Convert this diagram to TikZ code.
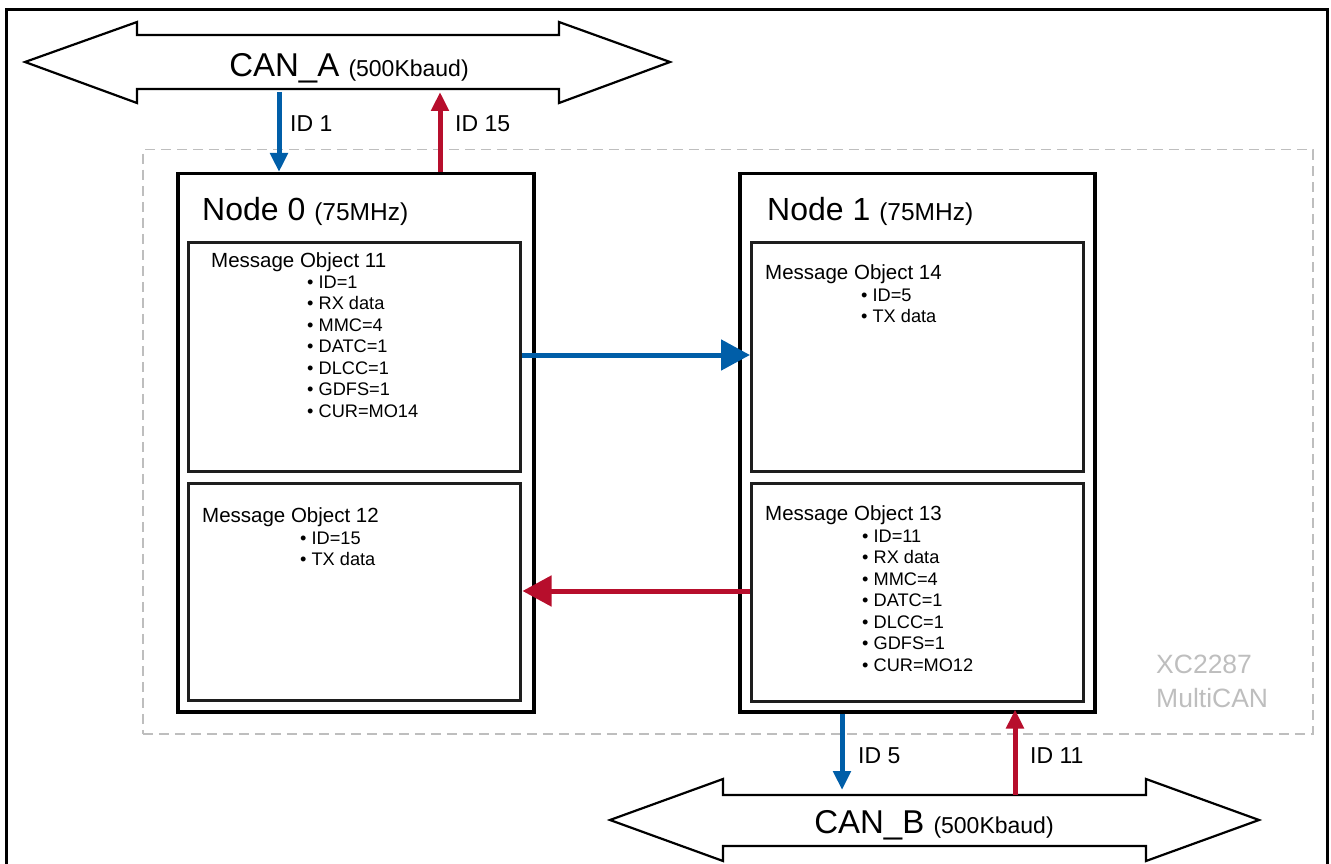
\documentclass[tikz,border=0pt]{standalone}
\usepackage{fontspec}
\setmainfont{Liberation Sans}
\usetikzlibrary{arrows.meta}
\definecolor{canblue}{RGB}{0,94,168}
\definecolor{canred}{RGB}{183,14,44}
\definecolor{dashgrey}{RGB}{190,190,190}
\definecolor{textgrey}{RGB}{190,190,190}
\definecolor{boxgrey}{RGB}{30,30,30}
\begin{document}
\begin{tikzpicture}[x=1pt,y=-1pt,
  nodebox/.style={draw=black, line width=3.5pt, inner sep=0pt, anchor=north west, minimum width=356pt, minimum height=538pt},
  mobox/.style={draw=boxgrey, line width=2.5pt, inner sep=0pt, anchor=north west, minimum width=332pt},
  bus/.style={draw=black, line width=2.2pt, line join=miter, fill=white},
  lbl/.style={inner sep=0pt, anchor=base west},
  title/.style={lbl, font=\fontsize{32}{36}\selectfont},
  motitle/.style={lbl, font=\fontsize{20.5}{24}\selectfont},
  bul/.style={lbl, font=\fontsize{18.2}{21.5}\selectfont},
  idlbl/.style={lbl, font=\fontsize{23}{27}\selectfont},
  vblue/.style={draw=canblue, line width=5pt, -{Triangle[length=19pt,width=17pt]}},
  vred/.style={draw=canred, line width=5pt, -{Triangle[length=19pt,width=17pt]}},
  hblue/.style={draw=canblue, line width=5pt, -{Triangle[length=29pt,width=30pt]}},
  hred/.style={draw=canred, line width=5pt, -{Triangle[length=29pt,width=30pt]}}
]
\useasboundingbox (0,0) rectangle (1331,864);
% outer frame
\draw[line width=3pt] (6,870) -- (6,10) -- (1327,10) -- (1327,870);
% chip dashed box
\node[draw=dashgrey, line width=1.5pt, dash pattern=on 10pt off 6pt, anchor=north west, inner sep=0pt, minimum width=1170pt, minimum height=584pt] (chip) at (142,149) {};
\node[lbl, text=textgrey, font=\fontsize{26.5}{30}\selectfont] (chipa) at (1156,673) {XC2287};
\node[lbl, text=textgrey, font=\fontsize{26.5}{30}\selectfont] (chipb) at (1156,707) {MultiCAN};
% buses
\draw[bus] (25,62) -- (137,22) -- (137,35) -- (559,35) -- (559,22) -- (670,62) -- (559,103) -- (559,89) -- (137,89) -- (137,103) -- cycle;
\node[inner sep=0pt, anchor=base] (cana) at (349,77) {\fontsize{33}{37}\selectfont CAN\_A \fontsize{23}{27}\selectfont(500Kbaud)};
\draw[bus] (610,820) -- (723,779) -- (723,795) -- (1146,795) -- (1146,779) -- (1259,820) -- (1146,861) -- (1146,846) -- (723,846) -- (723,861) -- cycle;
\node[inner sep=0pt, anchor=base] (canb) at (934,833) {\fontsize{33}{37}\selectfont CAN\_B \fontsize{23}{27}\selectfont(500Kbaud)};
% CAN nodes
\node[nodebox] (n0) at (176,172) {};
\node[nodebox, minimum width=355pt] (n1) at (738,172) {};
\node[title] (n0t) at (202,220) {Node 0 \fontsize{24.5}{28}\selectfont(75MHz)};
\node[title] (n1t) at (767,220) {Node 1 \fontsize{24.5}{28}\selectfont(75MHz)};
% message objects
\node[mobox, minimum height=229pt] (mo11) at (187,241) {};
\node[mobox, minimum height=217pt] (mo12) at (187,482) {};
\node[mobox, minimum height=229pt] (mo14) at (750,241) {};
\node[mobox, minimum height=218pt] (mo13) at (750,482) {};
\node[motitle] (mo11t) at (211,267) {Message Object 11};
\node[motitle] (mo12t) at (202,522) {Message Object 12};
\node[motitle] (mo14t) at (765,279) {Message Object 14};
\node[motitle] (mo13t) at (765,520) {Message Object 13};
\foreach \t [count=\i] in {ID=1,RX data,MMC=4,DATC=1,DLCC=1,GDFS=1,CUR=MO14}
  \node[bul] (mo11l\i) at (307,{288+21.5*(\i-1)}) {\textbullet\ \t};
\foreach \t [count=\i] in {ID=15,TX data}
  \node[bul] (mo12l\i) at (300,{544+21.5*(\i-1)}) {\textbullet\ \t};
\foreach \t [count=\i] in {ID=5,TX data}
  \node[bul] (mo14l\i) at (861,{301+21.5*(\i-1)}) {\textbullet\ \t};
\foreach \t [count=\i] in {ID=11,RX data,MMC=4,DATC=1,DLCC=1,GDFS=1,CUR=MO12}
  \node[bul] (mo13l\i) at (862,{542+21.5*(\i-1)}) {\textbullet\ \t};
% bus connection points
\coordinate (a1) at (279,92);
\coordinate (a15) at (440,92);
\coordinate (b5) at (842,790);
\coordinate (b11) at (1015,795);
\draw[vblue] (a1) -- (a1 |- n0.north);
\draw[vred] (a15 |- n0.north) -- (a15);
\draw[vblue] (b5 |- n1.south) -- (b5);
\draw[vred] (b11) -- ([yshift=4pt]b11 |- n1.south);
\node[idlbl] (id1) at (290,132) {ID 1};
\node[idlbl] (id15) at (455,132) {ID 15};
\node[idlbl] (id5) at (858,763) {ID 5};
\node[idlbl] (id11) at (1030,763) {ID 11};
% internal arrows
\draw[hblue] (mo11.east |- 0,355) -- (mo14.west |- 0,355);
\draw[hred] (mo13.west |- 0,591) -- ([xshift=1pt]mo12.east |- 0,591);
\end{tikzpicture}
\end{document}
